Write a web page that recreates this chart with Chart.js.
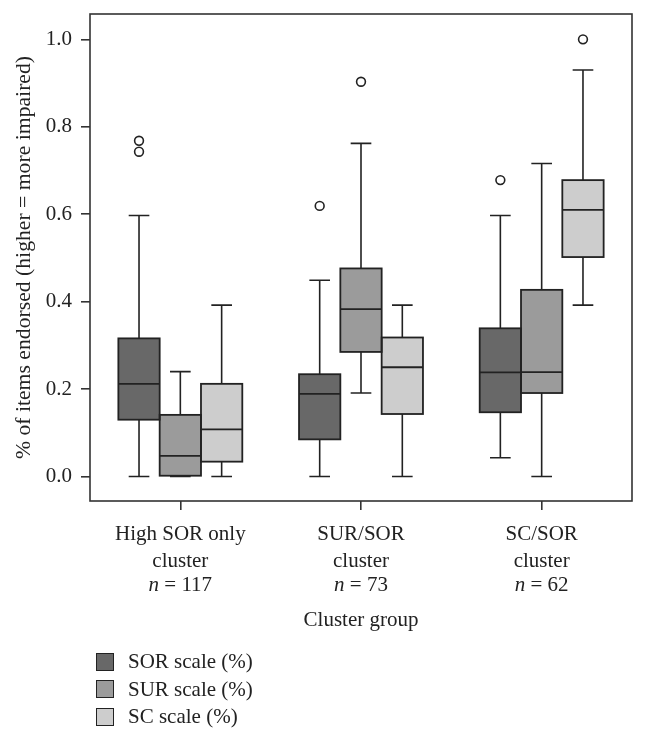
<!DOCTYPE html>
<html><head><meta charset="utf-8">
<script src="https://cdn.jsdelivr.net/npm/chart.js@4/dist/chart.umd.min.js"></script>
<style>
html,body{margin:0;padding:0;background:#fff;}
#wrap{position:relative;width:646px;height:742px;overflow:hidden;}
canvas{position:absolute;left:0;top:0;}
#legend{position:absolute;left:96px;top:648px;font-family:'Liberation Serif',serif;font-size:21px;color:#222;}
.row{display:flex;align-items:center;height:27.5px;}
.sw{width:16px;height:16px;border:1.6px solid #222;margin-right:14px;box-sizing:content-box;}
</style></head>
<body><div id="wrap"><canvas id="c" width="646" height="742"></canvas><div id="legend"></div></div>
<script>
// ---- data ----
const categories = [['High SOR only','cluster'],['SUR/SOR','cluster'],['SC/SOR','cluster']];
const groupSizes = [117, 73, 62];
const seriesNames = ['SOR scale (%)','SUR scale (%)','SC scale (%)'];
const seriesColors = ['#686868','#9b9b9b','#cdcdcd'];
const yTickValues = [0, 0.2, 0.4, 0.6, 0.8, 1.0];

const sorMin = [0.000, 0.000, 0.043];
const sorQ1 = [0.130, 0.085, 0.147];
const sorMedian = [0.212, 0.189, 0.238];
const sorQ3 = [0.316, 0.234, 0.339];
const sorMax = [0.597, 0.449, 0.597];
const sorOutliers = [[0.743, 0.768], [0.619], [0.678]];

const surMin = [0.000, 0.191, 0.000];
const surQ1 = [0.000, 0.285, 0.191];
const surMedian = [0.047, 0.383, 0.239];
const surQ3 = [0.141, 0.476, 0.427];
const surMax = [0.240, 0.762, 0.716];
const surOutliers = [[], [0.903], []];

const scMin = [0.000, 0.000, 0.392];
const scQ1 = [0.034, 0.143, 0.502];
const scMedian = [0.108, 0.250, 0.610];
const scQ3 = [0.212, 0.318, 0.678];
const scMax = [0.392, 0.392, 0.930];
const scOutliers = [[], [], [1.000]];

const stats = [
  {min: sorMin, q1: sorQ1, med: sorMedian, q3: sorQ3, max: sorMax, out: sorOutliers},
  {min: surMin, q1: surQ1, med: surMedian, q3: surQ3, max: surMax, out: surOutliers},
  {min: scMin, q1: scQ1, med: scMedian, q3: scQ3, max: scMax, out: scOutliers}
];

const FONT = "'Liberation Serif', 'Times New Roman', serif";
const INK = '#222';
const LABEL_LH = 1.27;

const boxPlugin = {
  id: 'boxParts',
  beforeDatasetsDraw(chart) {
    const ctx = chart.ctx, y = chart.scales.y;
    ctx.save();
    ctx.strokeStyle = INK; ctx.lineWidth = 1.6; ctx.lineCap = 'butt';
    stats.forEach((s, d) => {
      const meta = chart.getDatasetMeta(d);
      meta.data.forEach((el, i) => {
        const x = el.x, cw = el.width / 2;
        const pMax = y.getPixelForValue(s.max[i]), pQ3 = y.getPixelForValue(s.q3[i]);
        const pMin = y.getPixelForValue(s.min[i]), pQ1 = y.getPixelForValue(s.q1[i]);
        ctx.beginPath();
        ctx.moveTo(x, pQ3); ctx.lineTo(x, pMax);
        ctx.moveTo(x - cw/2, pMax); ctx.lineTo(x + cw/2, pMax);
        ctx.moveTo(x, pQ1); ctx.lineTo(x, pMin);
        ctx.moveTo(x - cw/2, pMin); ctx.lineTo(x + cw/2, pMin);
        ctx.stroke();
      });
    });
    ctx.restore();
  },
  afterDatasetsDraw(chart) {
    const ctx = chart.ctx, y = chart.scales.y;
    ctx.save();
    ctx.strokeStyle = INK;
    stats.forEach((s, d) => {
      const meta = chart.getDatasetMeta(d);
      meta.data.forEach((el, i) => {
        const x = el.x, w = el.width;
        const top = Math.min(el.y, el.base), bot = Math.max(el.y, el.base);
        ctx.lineWidth = 1.8;
        ctx.strokeRect(x - w/2, top, w, bot - top);
        const pm = y.getPixelForValue(s.med[i]);
        ctx.beginPath(); ctx.moveTo(x - w/2, pm); ctx.lineTo(x + w/2, pm); ctx.stroke();
        ctx.lineWidth = 1.6;
        s.out[i].forEach(v => {
          ctx.beginPath();
          ctx.arc(x, y.getPixelForValue(v), 4.4, 0, Math.PI * 2);
          ctx.fillStyle = '#fff'; ctx.fill(); ctx.stroke();
        });
      });
    });
    ctx.restore();
  },
  afterDraw(chart) {
    const ctx = chart.ctx, a = chart.chartArea, xs = chart.scales.x;
    ctx.save();
    ctx.strokeStyle = '#333'; ctx.lineWidth = 1.6;
    ctx.strokeRect(a.left, a.top, a.right - a.left, a.bottom - a.top);
    // third line of category labels: "n = ..." with italic n
    const o = xs.options;
    const lh = 21 * LABEL_LH;
    const yTop = xs.top + o.grid.tickLength + o.ticks.padding + 2 * lh + 1;
    ctx.fillStyle = INK; ctx.textBaseline = 'top'; ctx.textAlign = 'left';
    groupSizes.forEach((n, i) => {
      const cx = xs.getPixelForValue(i);
      const p1 = 'n', p2 = ' = ' + n;
      ctx.font = 'italic 21px ' + FONT; const w1 = ctx.measureText(p1).width;
      ctx.font = '21px ' + FONT; const w2 = ctx.measureText(p2).width;
      const sx = cx - (w1 + w2) / 2;
      ctx.font = 'italic 21px ' + FONT; ctx.fillText(p1, sx, yTop);
      ctx.font = '21px ' + FONT; ctx.fillText(p2, sx + w1, yTop);
    });
    ctx.restore();
  }
};

const chart = new Chart(document.getElementById('c'), {
  type: 'bar',
  data: {
    labels: categories,
    datasets: stats.map((s, d) => ({
      label: seriesNames[d],
      data: s.q1.map((v, i) => [v, s.q3[i]]),
      backgroundColor: seriesColors[d],
      borderWidth: 0,
      barPercentage: 1.0,
      categoryPercentage: 0.686
    }))
  },
  options: {
    responsive: false,
    animation: false,
    devicePixelRatio: 1,
    layout: {padding: {left: 0, right: 14, top: 14, bottom: 97}},
    plugins: {legend: {display: false}, tooltip: {enabled: false}},
    scales: {
      x: {
        border: {display: false},
        grid: {display: true, drawOnChartArea: false, drawTicks: true, tickLength: 9, offset: false, color: '#333', lineWidth: 1.6},
        ticks: {color: INK, padding: 11, maxRotation: 0, font: {family: FONT, size: 21, lineHeight: LABEL_LH},
          callback: function(v, i) { return [categories[i][0], categories[i][1], '']; }},
        title: {display: true, text: 'Cluster group', color: INK, font: {family: FONT, size: 21, lineHeight: 1.25}, padding: {top: 0, bottom: 11}},
        afterFit(scale) { scale.height = 144; scale.paddingLeft = 0; scale.paddingRight = 0; }
      },
      y: {
        min: -0.056, max: 1.058,
        border: {display: false},
        grid: {display: true, drawOnChartArea: false, drawTicks: true, tickLength: 9, color: '#333', lineWidth: 1.6},
        afterBuildTicks(scale) { scale.ticks = yTickValues.map(v => ({value: v})); },
        ticks: {color: INK, padding: 9, font: {family: FONT, size: 21}, callback: v => Number(v).toFixed(1)},
        title: {display: true, text: '% of items endorsed (higher = more impaired)', color: INK, font: {family: FONT, size: 21.7, lineHeight: 1.25}, padding: {top: 11, bottom: 0}},
        afterFit(scale) { scale.width = 90; scale.paddingTop = 0; scale.paddingBottom = 0; }
      }
    }
  },
  plugins: [boxPlugin]
});

// HTML legend from series arrays
const leg = document.getElementById('legend');
seriesNames.forEach((name, d) => {
  const row = document.createElement('div'); row.className = 'row';
  const sw = document.createElement('div'); sw.className = 'sw'; sw.style.background = seriesColors[d];
  const t = document.createElement('span'); t.textContent = name;
  row.appendChild(sw); row.appendChild(t); leg.appendChild(row);
});
</script>
</body></html>
